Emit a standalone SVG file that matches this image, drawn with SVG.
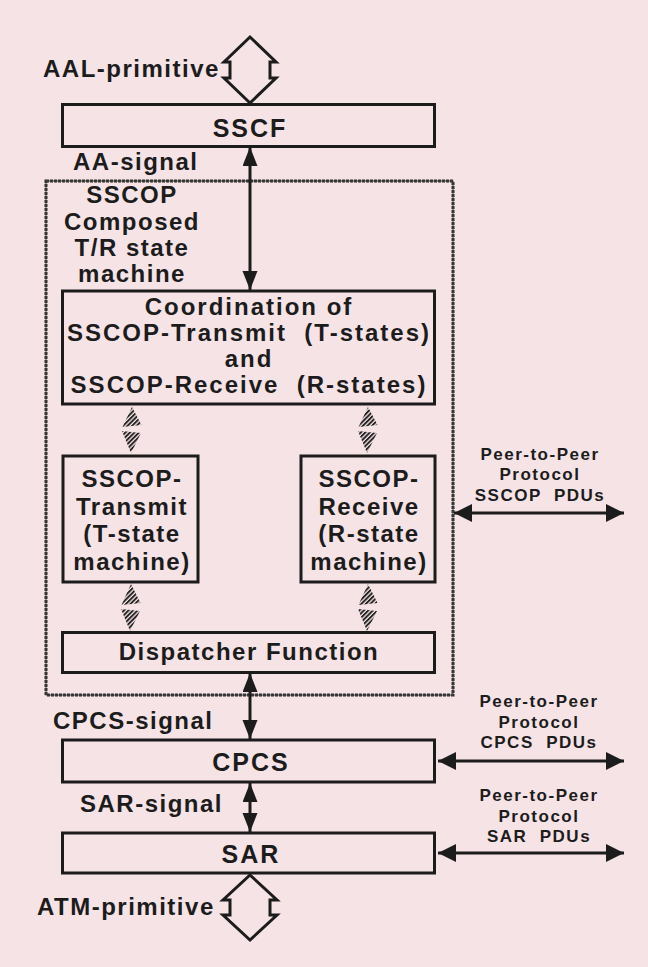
<svg xmlns="http://www.w3.org/2000/svg" width="648" height="967" viewBox="0 0 648 967">
<style>
text{font-family:"Liberation Sans",Arial,Helvetica,sans-serif;font-weight:bold;fill:#1c1c1c;white-space:pre}
.lbl{font-size:24px;letter-spacing:1.5px}
.big{font-size:25px;letter-spacing:2px;text-anchor:middle}
.mid{text-anchor:middle}
.wide{letter-spacing:2px}
.peer{font-size:17px;letter-spacing:1.5px;text-anchor:middle}
.box{fill:none;stroke:#1c1c1c;stroke-width:3}
.frame{fill:none;stroke:#2a2a2a;stroke-width:3;stroke-dasharray:3 1}
.frame-in{fill:none;stroke:#444;stroke-width:1}
.wire{fill:none;stroke:#1c1c1c;stroke-width:3}
.fat{fill:#f6e3e6;stroke:#1c1c1c;stroke-width:3;stroke-linejoin:miter}
.hat{fill:url(#hatch)}
</style>
<defs>
<marker id="ah" markerUnits="userSpaceOnUse" markerWidth="20" markerHeight="16" refX="19" refY="7.5" orient="auto-start-reverse">
<path d="M0,0 L19,7.5 L0,15 z" fill="#1c1c1c"/>
</marker>
<marker id="ahp" markerUnits="userSpaceOnUse" markerWidth="19" markerHeight="19" refX="18" refY="9" orient="auto-start-reverse">
<path d="M0,0 L18,9 L0,18 z" fill="#1c1c1c"/>
</marker>
<pattern id="hatch" patternUnits="userSpaceOnUse" width="3.2" height="3.2" patternTransform="rotate(45)">
<rect x="0" y="0" width="1.9" height="3.2" fill="#222"/>
</pattern>
</defs>
<rect x="0" y="0" width="648" height="967" fill="#f6e3e6"/>

<g id="sscop-frame">
<rect class="frame" x="46" y="181" width="407" height="514"/>
<rect class="frame-in" x="46" y="181" width="407" height="514"/>
<text class="lbl mid" x="132" y="203">SSCOP</text>
<text class="lbl mid" x="132" y="229.5">Composed</text>
<text class="lbl mid" x="132" y="256">T/R state</text>
<text class="lbl mid" x="132" y="282">machine</text>
</g>

<g id="sscf">
<rect class="box" x="62.5" y="104.5" width="372" height="42"/>
<text class="big" x="250" y="137">SSCF</text>
</g>

<g id="coordination">
<rect class="box" x="62.5" y="291" width="372" height="113"/>
<text class="lbl mid wide" x="249" y="315">Coordination of</text>
<text class="lbl mid wide" x="249" y="341">SSCOP-Transmit  (T-states)</text>
<text class="lbl mid wide" x="249" y="367">and</text>
<text class="lbl mid wide" x="249" y="393">SSCOP-Receive  (R-states)</text>
</g>

<g id="transmit">
<rect class="box" x="63" y="456" width="135" height="126"/>
<text class="lbl mid" x="132" y="487">SSCOP-</text>
<text class="lbl mid" x="132" y="515">Transmit</text>
<text class="lbl mid" x="132" y="542">(T-state</text>
<text class="lbl mid" x="132" y="570">machine)</text>
</g>

<g id="receive">
<rect class="box" x="301" y="456" width="134" height="126"/>
<text class="lbl mid" x="369" y="487">SSCOP-</text>
<text class="lbl mid" x="369" y="515">Receive</text>
<text class="lbl mid" x="369" y="542">(R-state</text>
<text class="lbl mid" x="369" y="570">machine)</text>
</g>

<g id="dispatcher">
<rect class="box" x="62.5" y="632.5" width="372" height="40"/>
<text class="lbl mid" x="249" y="660">Dispatcher Function</text>
</g>

<g id="cpcs">
<rect class="box" x="62.5" y="740" width="372" height="42"/>
<text class="big" x="251" y="771">CPCS</text>
</g>

<g id="sar">
<rect class="box" x="62.5" y="833" width="372" height="40"/>
<text class="big" x="251" y="863">SAR</text>
</g>

<g id="connectors">
<polygon class="fat" points="250,37 276,62 270,62 270,78 276,78 250,103 224,78 230,78 230,62 224,62"/>
<text class="lbl" x="43" y="77">AAL-primitive</text>

<line class="wire" x1="250" y1="147" x2="250" y2="290" marker-start="url(#ah)" marker-end="url(#ah)"/>
<text class="lbl" x="73" y="170">AA-signal</text>

<polygon class="hat" points="132,407 141.5,425 122.5,427"/>
<polygon class="hat" points="122,431 141,433 131,453"/>
<polygon class="hat" points="368,407 377.5,425 358.5,427"/>
<polygon class="hat" points="358,431 377,433 367,453"/>
<polygon class="hat" points="131,584 140.5,603 121.5,605"/>
<polygon class="hat" points="121,609 140,611 130,631"/>
<polygon class="hat" points="368,584 377.5,603 358.5,605"/>
<polygon class="hat" points="358,609 377,611 367,631"/>

<line class="wire" x1="250" y1="673" x2="250" y2="739" marker-start="url(#ah)" marker-end="url(#ah)"/>
<text class="lbl" x="53" y="729">CPCS-signal</text>

<line class="wire" x1="250" y1="783" x2="250" y2="832" marker-start="url(#ah)" marker-end="url(#ah)"/>
<text class="lbl" x="80" y="812">SAR-signal</text>

<polygon class="fat" points="250,875 277,900 270,900 270,915 277,915 250,940 223,915 230,915 230,900 223,900"/>
<text class="lbl" x="37" y="915">ATM-primitive</text>

<line class="wire" x1="454" y1="513" x2="624" y2="513" marker-start="url(#ahp)" marker-end="url(#ahp)"/>
<text class="peer" x="540" y="460">Peer-to-Peer</text>
<text class="peer" x="540" y="480">Protocol</text>
<text class="peer" x="540" y="501">SSCOP  PDUs</text>

<line class="wire" x1="438" y1="761" x2="624" y2="761" marker-start="url(#ahp)" marker-end="url(#ahp)"/>
<text class="peer" x="539" y="707">Peer-to-Peer</text>
<text class="peer" x="539" y="728">Protocol</text>
<text class="peer" x="539" y="748">CPCS  PDUs</text>

<line class="wire" x1="438" y1="853" x2="624" y2="853" marker-start="url(#ahp)" marker-end="url(#ahp)"/>
<text class="peer" x="539" y="801">Peer-to-Peer</text>
<text class="peer" x="539" y="822">Protocol</text>
<text class="peer" x="539" y="842">SAR  PDUs</text>
</g>
</svg>
